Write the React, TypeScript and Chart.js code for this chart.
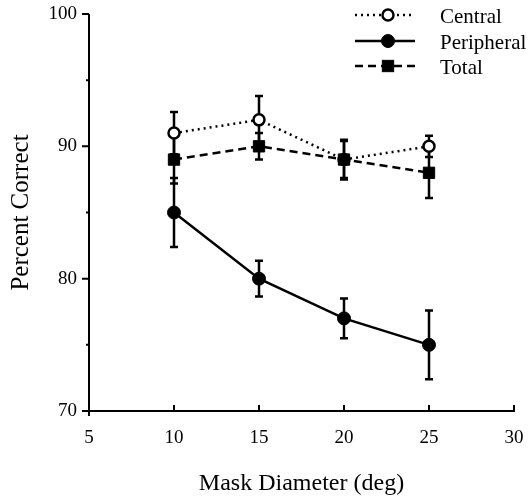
import React, { useEffect, useRef } from "react";
import { Chart, registerables } from "chart.js";

Chart.register(...registerables);

// ---- data ----
const maskDiameters = [10, 15, 20, 25];
const centralValues = [91, 92, 89, 90];
const centralErrors = [1.6, 1.8, 1.5, 0.8];
const peripheralValues = [85, 80, 77, 75];
const peripheralErrors = [2.6, 1.35, 1.5, 2.6];
const totalValues = [89, 90, 89, 88];
const totalErrors = [1.8, 1.0, 1.4, 1.9];
const xTickValues = [5, 10, 15, 20, 25, 30];
const yTickValues = [70, 80, 90, 100];
const yMinorTickValues = [75, 85, 95];
const seriesLabels = ["Central", "Peripheral", "Total"];
const xTitle = "Mask Diameter (deg)";
const yTitle = "Percent Correct";

const FONT = "'Liberation Serif', 'Times New Roman', serif";

const errorsByDataset = [centralErrors, peripheralErrors, totalErrors];

const toPoints = (vals: number[]) => vals.map((v, i) => ({ x: maskDiameters[i], y: v }));

function drawMarker(ctx: CanvasRenderingContext2D, ds: any, x: number, y: number) {
  ctx.save();
  ctx.setLineDash([]);
  ctx.lineWidth = ds.pointBorderWidth;
  ctx.strokeStyle = ds.pointBorderColor;
  ctx.fillStyle = ds.pointBackgroundColor;
  if (ds.pointStyle === "rect") {
    const s = ds.pointRadius * Math.SQRT1_2;
    ctx.fillRect(x - s, y - s, 2 * s, 2 * s);
    ctx.strokeRect(x - s, y - s, 2 * s, 2 * s);
  } else {
    ctx.beginPath();
    ctx.arc(x, y, ds.pointRadius, 0, Math.PI * 2);
    ctx.fill();
    ctx.stroke();
  }
  ctx.restore();
}

const customPlugin = {
  id: "customDecor",
  beforeDatasetsDraw(chart: any) {
    const ctx = chart.ctx as CanvasRenderingContext2D;
    const xs = chart.scales.x;
    const ys = chart.scales.y;
    ctx.save();
    ctx.strokeStyle = "#000";
    ctx.lineWidth = 2.5;
    ctx.setLineDash([]);
    chart.data.datasets.forEach((ds: any, di: number) => {
      const errs = errorsByDataset[di];
      ds.data.forEach((p: any, i: number) => {
        const px = xs.getPixelForValue(p.x);
        const yTop = ys.getPixelForValue(p.y + errs[i]);
        const yBot = ys.getPixelForValue(p.y - errs[i]);
        ctx.beginPath();
        ctx.moveTo(px, yTop);
        ctx.lineTo(px, yBot);
        ctx.moveTo(px - 4, yTop);
        ctx.lineTo(px + 4, yTop);
        ctx.moveTo(px - 4, yBot);
        ctx.lineTo(px + 4, yBot);
        ctx.stroke();
      });
    });
    ctx.restore();
  },
  afterDraw(chart: any) {
    const ctx = chart.ctx as CanvasRenderingContext2D;
    const area = chart.chartArea;
    const xs = chart.scales.x;
    const ys = chart.scales.y;
    ctx.save();
    ctx.strokeStyle = "#000";
    ctx.fillStyle = "#000";
    ctx.lineWidth = 2;
    ctx.setLineDash([]);
    // axes
    ctx.beginPath();
    ctx.moveTo(area.left, area.top);
    ctx.lineTo(area.left, area.bottom + 5);
    ctx.moveTo(area.left - 5, area.bottom);
    ctx.lineTo(area.right, area.bottom);
    ctx.stroke();
    // y major ticks (outward)
    ctx.beginPath();
    yTickValues.forEach((v) => {
      const py = ys.getPixelForValue(v);
      ctx.moveTo(area.left - 7, py);
      ctx.lineTo(area.left, py);
    });
    yMinorTickValues.forEach((v) => {
      const py = ys.getPixelForValue(v);
      ctx.moveTo(area.left - 3, py);
      ctx.lineTo(area.left, py);
    });
    // x ticks (inward)
    xTickValues.forEach((v) => {
      if (v === xTickValues[0]) return;
      const px = xs.getPixelForValue(v);
      ctx.moveTo(px, area.bottom - 6);
      ctx.lineTo(px, area.bottom + 1);
    });
    ctx.stroke();

    // axis titles
    ctx.font = `24px ${FONT}`;
    ctx.textAlign = "center";
    ctx.textBaseline = "middle";
    ctx.fillText(xTitle, (area.left + area.right) / 2, 484);
    ctx.save();
    ctx.translate(21, (area.top + area.bottom) / 2);
    ctx.rotate(-Math.PI / 2);
    ctx.font = `25px ${FONT}`;
    ctx.fillText(yTitle, 0, 0);
    ctx.restore();

    // legend
    const rows = [15, 41, 66];
    chart.data.datasets.forEach((ds: any, di: number) => {
      const y = rows[di];
      ctx.save();
      ctx.lineWidth = ds.borderWidth;
      ctx.strokeStyle = ds.borderColor;
      ctx.setLineDash(ds.borderDash || []);
      ctx.beginPath();
      ctx.moveTo(355, y);
      ctx.lineTo(415, y);
      ctx.stroke();
      ctx.restore();
      drawMarker(ctx, ds, 388, y);
      ctx.font = `21px ${FONT}`;
      ctx.textAlign = "left";
      ctx.textBaseline = "middle";
      ctx.fillStyle = "#000";
      ctx.fillText(ds.label, 440, y + 2);
    });
    ctx.restore();
  },
};

export default function App() {
  const canvasRef = useRef<HTMLCanvasElement | null>(null);

  useEffect(() => {
    if (!canvasRef.current) return;
    const chart = new Chart(canvasRef.current, {
      type: "line",
      data: {
        datasets: [
          {
            label: seriesLabels[0],
            data: toPoints(centralValues),
            order: 2,
            borderColor: "#000",
            borderWidth: 2.5,
            borderDash: [2, 4],
            pointStyle: "circle",
            pointRadius: 5.5,
            pointBorderWidth: 2.5,
            pointBackgroundColor: "#fff",
            pointBorderColor: "#000",
            fill: false,
            tension: 0,
          },
          {
            label: seriesLabels[1],
            data: toPoints(peripheralValues),
            order: 1,
            borderColor: "#000",
            borderWidth: 2.5,
            borderDash: [],
            pointStyle: "circle",
            pointRadius: 6.5,
            pointBorderWidth: 1,
            pointBackgroundColor: "#000",
            pointBorderColor: "#000",
            fill: false,
            tension: 0,
          },
          {
            label: seriesLabels[2],
            data: toPoints(totalValues),
            order: 0,
            borderColor: "#000",
            borderWidth: 2.5,
            borderDash: [8, 5],
            pointStyle: "rect",
            pointRadius: 8,
            pointBorderWidth: 1,
            pointBackgroundColor: "#000",
            pointBorderColor: "#000",
            fill: false,
            tension: 0,
          },
        ],
      } as any,
      options: {
        responsive: false,
        animation: false,
        devicePixelRatio: 1,
        layout: { padding: { top: 14, right: 16, left: 0, bottom: 0 } },
        plugins: {
          legend: { display: false },
          tooltip: { enabled: false },
        },
        scales: {
          x: {
            type: "linear",
            min: 5,
            max: 30,
            grid: { display: false, drawTicks: false },
            border: { display: false },
            ticks: {
              color: "#000",
              font: { family: FONT, size: 19 },
              padding: 16,
              maxRotation: 0,
            },
            afterBuildTicks: (scale: any) => {
              scale.ticks = xTickValues.map((v) => ({ value: v }));
            },
            afterFit: (scale: any) => {
              scale.height = 90;
              scale.paddingLeft = 0;
              scale.paddingRight = 0;
            },
          },
          y: {
            type: "linear",
            min: 70,
            max: 100,
            grid: { display: false, drawTicks: false },
            border: { display: false },
            ticks: {
              color: "#000",
              font: { family: FONT, size: 19 },
              padding: 12,
            },
            afterBuildTicks: (scale: any) => {
              scale.ticks = yTickValues.map((v) => ({ value: v }));
            },
            afterFit: (scale: any) => {
              scale.width = 89;
              scale.paddingTop = 0;
              scale.paddingBottom = 0;
            },
          },
        },
      } as any,
      plugins: [customPlugin],
    });
    return () => chart.destroy();
  }, []);

  return (
    <div style={{ position: "absolute", left: 0, top: 0, width: 530, height: 501, background: "#fff" }}>
      <canvas ref={canvasRef} width={530} height={501} />
    </div>
  );
}
